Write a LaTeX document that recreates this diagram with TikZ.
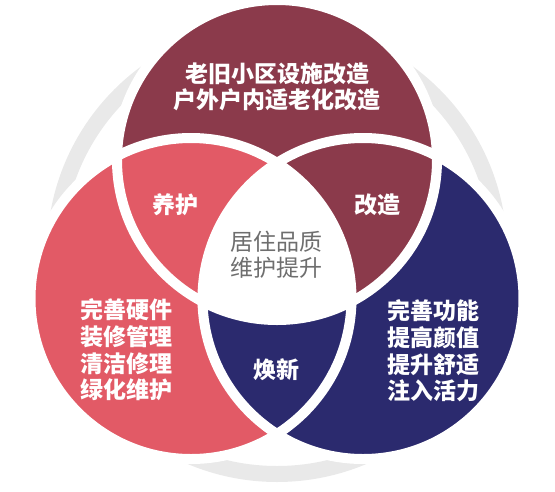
\documentclass[tikz,border=0pt]{standalone}
\usepackage{fontspec}
\setmainfont{Noto Sans CJK SC}
\definecolor{topred}{HTML}{8B3A4B}
\definecolor{leftred}{HTML}{E25A66}
\definecolor{rightblue}{HTML}{2B2A6E}
\definecolor{ringgray}{HTML}{E9E9E9}
\definecolor{midgray}{HTML}{6E6E6E}

\begin{document}
\begin{tikzpicture}[x=1pt,y=-1pt,
    gap/.style={white,line width=10pt},
    whitetext/.style={text=white,align=center,inner sep=0pt,
        font=\bfseries\fontsize{23}{26.5}\selectfont},
    midtext/.style={text=midgray,align=center,inner sep=0pt,
        font=\fontsize{23}{26}\selectfont}]
    \useasboundingbox (0,0) rectangle (555,491);

    % circle centres
    \coordinate (cA) at (277,160);
    \coordinate (cB) at (191,298.5);
    \coordinate (cC) at (363,298.5);

    % background ring
    \draw[ringgray,line width=16pt] (277,252) circle (222pt);

    % filled circles
    \fill[topred] (cA) circle (160pt);
    \fill[rightblue] (cC) circle (160.5pt);
    \begin{scope}
        \clip (cC) circle (160.5pt);
        \fill[topred] (cA) circle (160pt);
    \end{scope}
    \fill[leftred] (cB) circle (160.5pt);
    \begin{scope}
        \clip (cB) circle (160.5pt);
        \fill[rightblue] (cC) circle (160.5pt);
    \end{scope}
    \begin{scope}
        \clip (cA) circle (160pt);
        \clip (cB) circle (160.5pt);
        \fill[white] (cC) circle (160.5pt);
    \end{scope}

    % white gaps
    \draw[gap] (cA) circle (160pt);
    \draw[gap] (cB) circle (160.5pt);
    \draw[gap] (cC) circle (160.5pt);

    % labels
    \node[whitetext] (topText) at (277,87) {老旧小区设施改造\\户外户内适老化改造};
    \node[whitetext] (yanghu) at (175,205) {养护};
    \node[whitetext] (gaizao) at (377,205) {改造};
    \node[whitetext] (huanxin) at (276,370) {焕新};
    \node[midtext] (centreText) at (276,255) {居住品质\\维护提升};
    \node[whitetext,font=\bfseries\fontsize{23}{26.7}\selectfont] (leftText) at (126,350)
        {完善硬件\\装修管理\\清洁修理\\绿化维护};
    \node[whitetext,font=\bfseries\fontsize{23}{26.7}\selectfont] (rightText) at (433,351)
        {完善功能\\提高颜值\\提升舒适\\注入活力};
\end{tikzpicture}
\end{document}
